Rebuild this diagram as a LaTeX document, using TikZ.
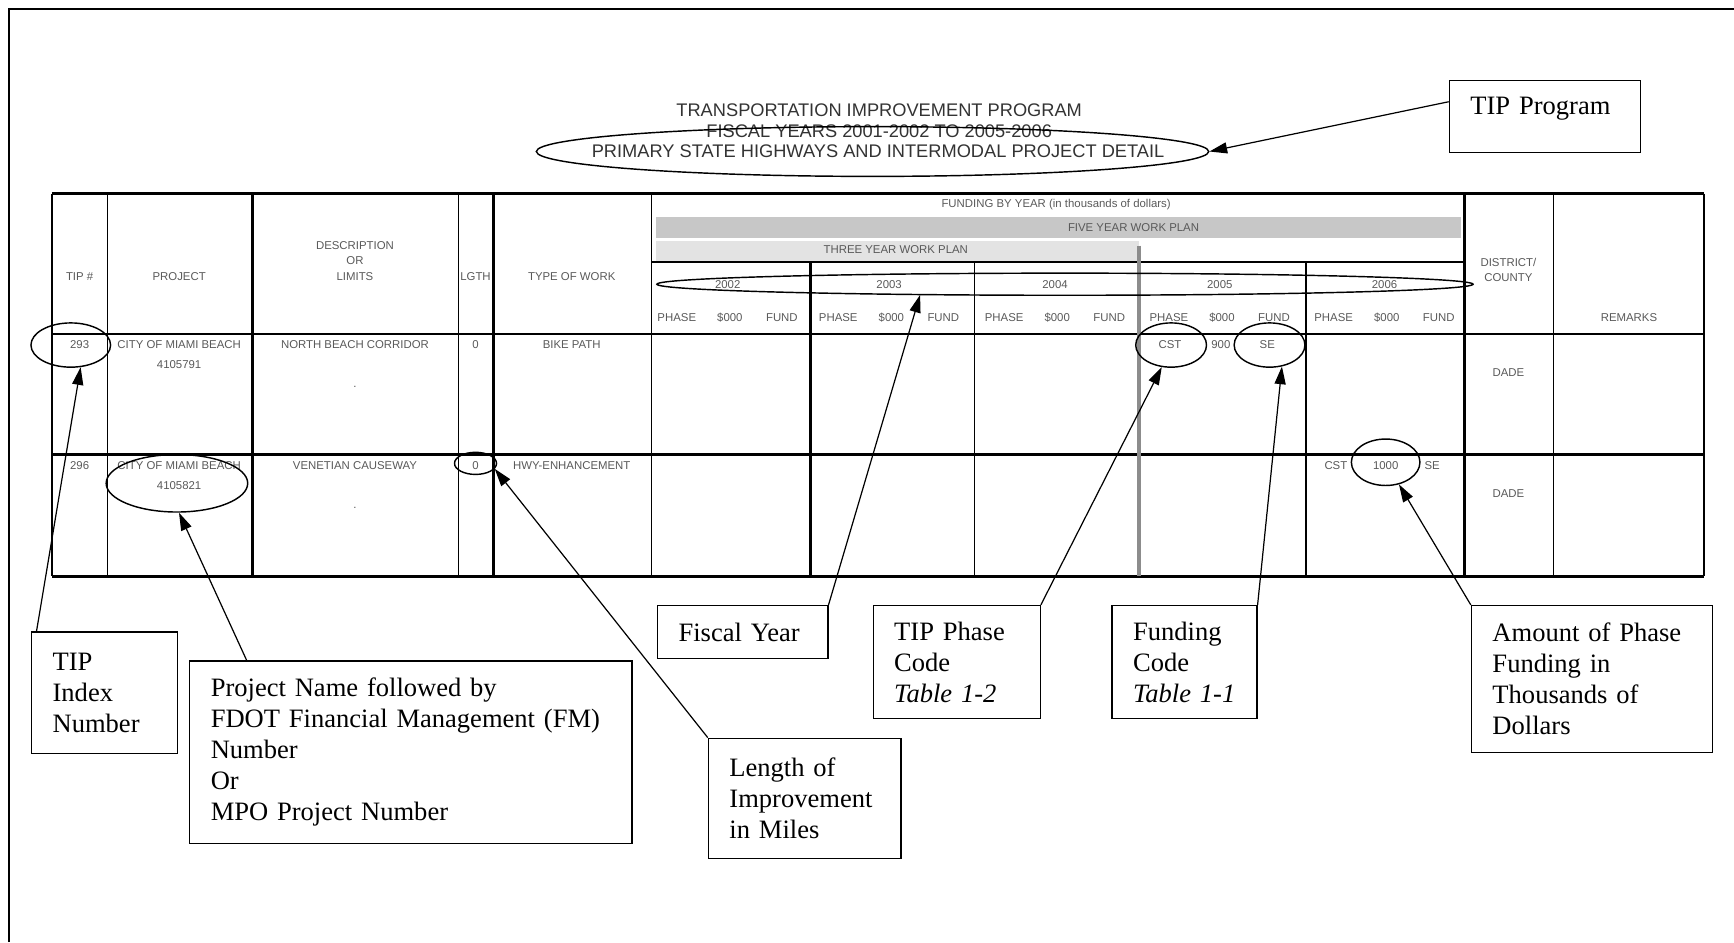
\documentclass[tikz,border=0pt]{standalone}
\usepackage{fontspec}
\setmainfont{Liberation Serif}
\setsansfont{Liberation Sans}
\usepackage{tikz}
\usetikzlibrary{arrows.meta}
\usetikzlibrary{positioning}
\usetikzlibrary{shapes.geometric}
\usetikzlibrary{calc}
\tikzstyle{callout}=[draw,line width=1.2pt,align=left,inner xsep=19pt,anchor=north west,font=\fontsize{24}{28}\selectfont]
\tikzstyle{cell}=[inner sep=0pt,text=black!65,font=\sffamily\fontsize{10.3}{14}\selectfont]
\tikzstyle{twoline}=[cell,align=center,font=\sffamily\fontsize{10.3}{18}\selectfont]
\tikzstyle{headline}=[inner sep=0pt,text=black!80,font=\sffamily\fontsize{16.5}{19}\selectfont]
\tikzstyle{ring}=[draw,ellipse,line width=1.3pt,inner sep=0pt]
\tikzstyle{pointer}=[line width=1.1pt,-{Triangle[length=16pt,width=10pt]}]

\begin{document}
\begin{tikzpicture}[x=1pt,y=-1pt]
\useasboundingbox (0,0) rectangle (1568,852);
\draw[line width=1.5pt] (8,852) -- (8,8) -- (1568,8);

% page title
\node[headline] (t1) at (795,100) {TRANSPORTATION IMPROVEMENT PROGRAM};
\node[headline] (t2) at (795,119) {FISCAL YEARS 2001-2002 TO 2005-2006};
\node[headline] (t3) at (794,137) {PRIMARY STATE HIGHWAYS AND INTERMODAL PROJECT DETAIL};

% shaded bands
\fill[black!22] (593,196) rectangle (1321,215);
\fill[black!11] (593,218) rectangle (1030,236);

% table grid
\draw[line width=3pt] (47,175) -- (1541,175);
\draw[line width=3pt] (47,521) -- (1541,521);
\draw[line width=2.5pt] (47,411) -- (1541,411);
\draw[line width=1pt] (47,302) -- (1541,302);
\foreach \x/\w in {47/2,97/1,228/2.5,415/1,446/2.5,589/1,1324/2.5,1405/1,1541/1.5}
  \draw[line width=\w pt] (\x,175) -- (\x,521);
\draw[line width=1.5pt] (589,237) -- (1324,237);
\foreach \x/\w in {733/2.5,881/1,1181/2.5}
  \draw[line width=\w pt] (\x,237) -- (\x,521);
\draw[line width=3pt,black!45] (1030,222) -- (1030,521);

% headings
\node[cell] (htip) at (72,250) {TIP \#};
\node[cell] (hproj) at (162,250) {PROJECT};
\node[cell,align=center] (hdesc) at (321,236) {DESCRIPTION\\OR\\LIMITS};
\node[cell] (hlgth) at (430,250) {LGTH};
\node[cell] (htype) at (517,250) {TYPE OF WORK};
\node[cell] (hfund) at (955,185) {FUNDING BY YEAR (in thousands of dollars)};
\node[cell] (hfive) at (1025,206) {FIVE YEAR WORK PLAN};
\node[cell] (hthree) at (810,226) {THREE YEAR WORK PLAN};
\node[cell,align=center] (hdist) at (1364,244) {DISTRICT/\\COUNTY};
\node[cell] (hrem) at (1473,287) {REMARKS};
\foreach \yr/\x in {2002/612,2003/758,2004/908,2005/1057,2006/1206}{
  \node[cell] (y\yr) at (\x+46,257) {\yr};
  \node[cell] (ph\yr) at (\x,287) {PHASE};
  \node[cell] (am\yr) at (\x+48,287) {\$000};
  \node[cell] (fd\yr) at (\x+95,287) {FUND};
}

% project rows
\node[cell] (n293) at (72,312) {293};
\node[twoline] (p293) at (162,321) {CITY OF MIAMI BEACH\\4105791};
\node[cell] (d293) at (321,312) {NORTH BEACH CORRIDOR};
\node[cell] (d293dot) at (321,350) {.};
\node[cell] (l293) at (430,312) {0};
\node[cell] (w293) at (517,312) {BIKE PATH};
\node[cell] (ph293) at (1058,312) {CST};
\node[cell] (am293) at (1104,312) {900};
\node[cell] (fd293) at (1146,312) {SE};
\node[cell] (c293) at (1364,337) {DADE};

\node[cell] (n296) at (72,421) {296};
\node[twoline] (p296) at (162,430) {CITY OF MIAMI BEACH\\4105821};
\node[cell] (d296) at (321,421) {VENETIAN CAUSEWAY};
\node[cell] (d296dot) at (321,459) {.};
\node[cell] (l296) at (430,421) {0};
\node[cell] (w296) at (517,421) {HWY-ENHANCEMENT};
\node[cell] (ph296) at (1208,421) {CST};
\node[cell] (am296) at (1253,421) {1000};
\node[cell] (fd296) at (1295,421) {SE};
\node[cell] (c296) at (1364,446) {DADE};

% rings
\node[ring,minimum width=608pt,minimum height=45pt] (rtitle) at (789,137) {};
\node[ring,minimum width=72pt,minimum height=40pt] (rtip) at (64,312) {};
\node[ring,minimum width=128pt,minimum height=52pt] (rproj) at (160,437) {};
\node[ring,minimum width=38pt,minimum height=20pt] (rlgth) at (430,419) {};
\node[ring,minimum width=738pt,minimum height=20pt] (ryear) at (963,257) {};
\node[ring,minimum width=64pt,minimum height=40pt] (rphase) at (1059,312) {};
\node[ring,minimum width=64pt,minimum height=40pt] (rcode) at (1148,312) {};
\node[ring,minimum width=62pt,minimum height=42pt] (ramount) at (1253,418) {};

% callouts
\node[callout,text width=135pt,minimum height=65pt,text depth=18pt] (bprog) at (1310,72) {TIP Program};
\node[callout,text width=94pt,minimum height=110pt] (bindex) at (28,571) {TIP\\Index\\Number};
\node[callout,text width=362pt,minimum height=165pt] (bname) at (171,597) {Project Name followed by\\FDOT Financial Management (FM)\\Number\\Or\\MPO Project Number};
\node[callout,text width=136pt,minimum height=109pt] (blength) at (640,667) {Length of\\Improvement\\in Miles};
\node[callout,text width=116pt,minimum height=48pt] (byear) at (594,547) {Fiscal Year};
\node[callout,text width=113pt,minimum height=102pt] (bphase) at (789,547) {TIP Phase\\Code\\\textit{Table 1-2}};
\node[callout,text width=93pt,minimum height=102pt] (bcode) at (1005,547) {Funding\\Code\\\textit{Table 1-1}};
\node[callout,text width=180pt,minimum height=133pt] (bamount) at (1330,547) {Amount of Phase\\Funding in\\Thousands of\\Dollars};

% pointers
\draw[pointer] ($(bprog.north west)+(0,20)$) -- (rtitle.east);
\draw[pointer] ($(bindex.north west)+(5,0)$) -- (rtip.-66);
\draw[pointer] ($(bname.north west)+(52,0)$) -- (rproj.-86);
\draw[pointer] (blength.north west) -- (rlgth.-16);
\draw[pointer] (byear.north east) -- ($(ryear.south)+(-131,-1)$);
\draw[pointer] (bphase.north east) -- (rphase.-113);
\draw[pointer] (bcode.north east) -- (rcode.-60);
\draw[pointer] (bamount.north west) -- (ramount.-59);
\end{tikzpicture}
\end{document}
